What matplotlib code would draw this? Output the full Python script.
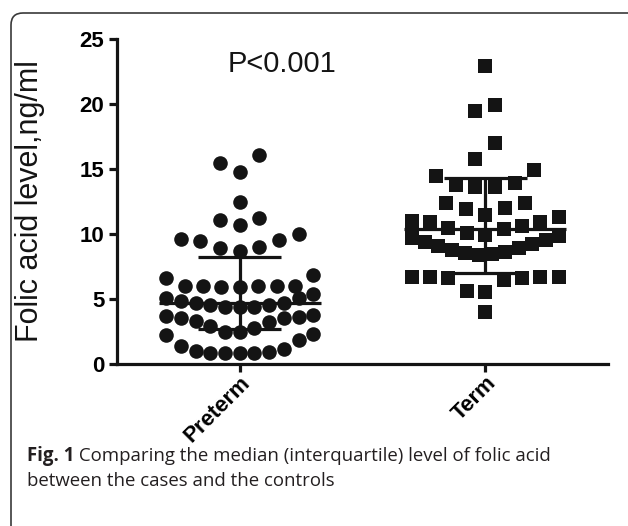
import matplotlib
matplotlib.use('Agg')
import matplotlib.pyplot as plt
import numpy as np
from matplotlib.patches import FancyBboxPatch
from matplotlib.transforms import IdentityTransform

# values (ng/ml)
groups = ['Preterm', 'Term']
preterm = [0.85, 0.85, 0.85, 0.87, 0.95, 1.0, 1.13, 1.41, 1.85, 2.23, 2.33,
           2.49, 2.49, 2.74, 2.95, 3.26, 3.33, 3.51, 3.51, 3.64, 3.72, 3.77,
           4.41, 4.41, 4.41, 4.54, 4.54, 4.72, 4.72, 4.87, 5.05, 5.05, 5.38,
           5.93, 5.93, 6.0, 6.0, 6.0, 6.0, 6.0, 6.59, 6.85,
           8.72, 8.9, 8.97, 9.46, 9.54, 9.59, 9.97,
           10.69, 11.08, 11.26, 12.49, 14.74, 15.49, 16.08]
term = [4.0, 5.55, 5.6, 6.5, 6.6, 6.6, 6.7, 6.7, 6.7, 6.7,
        8.4, 8.45, 8.55, 8.65, 8.8, 8.9, 9.05, 9.2, 9.4, 9.55, 9.7, 9.85,
        9.95, 10.1, 10.4, 10.5, 10.6, 10.9, 10.9, 11.0, 11.3,
        11.5, 11.9, 12.0, 12.4, 12.4,
        13.6, 13.6, 13.8, 13.9, 14.5, 14.9,
        15.8, 17.0, 19.5, 19.9, 22.9]
medians = [4.72, 10.4]
q1 = [2.67, 7.0]
q3 = [8.26, 14.3]
y_ticks = [0, 5, 10, 15, 20, 25]
p_text = 'P<0.001'
ylabel = 'Folic acid level,ng/ml'
caption_bold = 'Fig. 1'
caption_1 = ' Comparing the median (interquartile) level of folic acid'
caption_2 = 'between the cases and the controls'

ink = '#141414'


def row_layout(values, h=1.5, step=0.08, max_width=0.6):
    # column scatter: group close values in rows, spread each row from the centre
    vals = sorted(values)
    xs, ys = [], []
    i = 0
    while i < len(vals):
        start = vals[i]
        row = []
        while i < len(vals) and vals[i] < start + h - 1e-9:
            row.append(vals[i])
            i += 1
        n = len(row)
        d = step if n == 1 else min(step, max_width / (n - 1))
        for k, v in enumerate(row):
            if n % 2 == 1:
                m = (k + 1) // 2
                slot = 0 if k == 0 else (-m if k % 2 == 1 else m)
            else:
                m = k // 2
                slot = -(m + 0.5) if k % 2 == 0 else (m + 0.5)
            xs.append(slot * d)
            ys.append(v)
    return np.array(xs), np.array(ys)


fig = plt.figure(figsize=(6.28, 5.26), dpi=100)
ax = fig.add_axes([117 / 628, 1 - 364 / 526, 491 / 628, 325 / 526])

for i, (vals, mk, sz) in enumerate([(preterm, 'o', 110), (term, 's', 95)]):
    xs, ys = row_layout(vals)
    ax.scatter(i + xs, ys, marker=mk, s=sz, color=ink, linewidths=0, zorder=2, clip_on=False)
    ax.hlines(medians[i], i - 0.33, i + 0.33, color=ink, lw=2.3, zorder=3)
    ax.hlines([q1[i], q3[i]], i - 0.17, i + 0.17, color=ink, lw=2.3, zorder=3)
    ax.vlines(i, q1[i], q3[i], color=ink, lw=2.3, zorder=3)

ax.set_xlim(-0.5, 1.5)
ax.set_ylim(0, 25)
ax.set_yticks(y_ticks)
ax.set_xticks([0, 1])
ax.set_xticklabels(groups, rotation=45, ha='right', rotation_mode='anchor')
for sp in ['top', 'right']:
    ax.spines[sp].set_visible(False)
for sp in ['left', 'bottom']:
    ax.spines[sp].set_linewidth(2.3)
    ax.spines[sp].set_color(ink)
ax.tick_params(width=2.3, length=6, color=ink, pad=3)
ax.tick_params(axis='x', pad=0)
for lab in ax.get_yticklabels():
    lab.set_fontfamily('Liberation Sans')
    lab.set_fontweight('bold')
    lab.set_fontsize(16)
for lab in ax.get_xticklabels():
    lab.set_fontfamily('Liberation Sans')
    lab.set_fontweight('bold')
    lab.set_fontsize(16)

ax.set_ylabel(ylabel, fontsize=22, family='Liberation Sans', color=ink)
ax.yaxis.set_label_coords(-0.147, 0.5)

ax.text(0.172, 23.1, p_text, ha='center', va='center', fontsize=21,
        family='Liberation Sans', color=ink)

frame = FancyBboxPatch((11, -60), 720, 526 - 13 + 60,
                       boxstyle='round,pad=0,rounding_size=12',
                       transform=IdentityTransform(), fill=False,
                       ec='#3a3a3a', lw=1.2)
fig.add_artist(frame)

cap_kw = dict(family='Open Sans', fontsize=13.4, color='#231f20', va='center')
t1 = fig.text(27 / 628, 1 - 456 / 526, caption_bold, fontweight='bold', **cap_kw)
fig.canvas.draw()
bb = t1.get_window_extent(fig.canvas.get_renderer())
fig.text(bb.x1 / 628, 1 - 456 / 526, caption_1, **cap_kw)
fig.text(27 / 628, 1 - 481 / 526, caption_2, **cap_kw)

fig.savefig('out.png', dpi=100)
